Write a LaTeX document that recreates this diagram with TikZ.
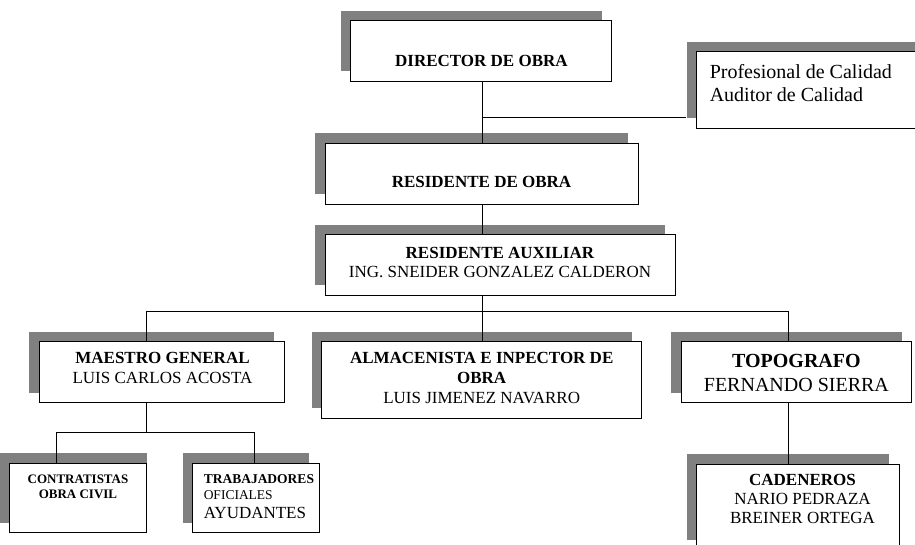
\documentclass[tikz,border=0pt]{standalone}
\usepackage{fontspec}
\setmainfont{Liberation Serif}
\usetikzlibrary{shadows}
\definecolor{shadowgray}{RGB}{128,128,128}
\tikzset{orgbox/.style={draw, line width=1pt, fill=white, inner sep=0pt,
    general shadow={fill=shadowgray, shadow xshift=-10pt, shadow yshift=10pt}}}
\tikzset{boxtext/.style={inner sep=0pt, align=center, font=\fontsize{17}{20}\selectfont}}
\tikzset{link/.style={line width=0.9pt}}

\begin{document}
\begin{tikzpicture}[x=1pt,y=-1pt]
  \useasboundingbox (0,0) rectangle (915,545);

  % boxes
  \node[orgbox, minimum width=261pt, minimum height=60.3pt] (director) at (481.4,50.9) {};
  \node[orgbox, minimum width=233.3pt, minimum height=76.6pt] (calidad) at (813.4,90) {};
  \node[orgbox, minimum width=313pt, minimum height=60.7pt] (residente) at (481.5,173.7) {};
  \node[orgbox, minimum width=350pt, minimum height=60pt] (auxiliar) at (500,265) {};
  \node[orgbox, minimum width=245pt, minimum height=61pt] (maestro) at (161.8,372.2) {};
  \node[orgbox, minimum width=320pt, minimum height=76.6pt] (almacen) at (481.7,380) {};
  \node[orgbox, minimum width=230.7pt, minimum height=61pt] (topografo) at (796.4,372.2) {};
  \node[orgbox, minimum width=137.4pt, minimum height=69.4pt,
    general shadow={fill=shadowgray, shadow xshift=0.7pt, shadow yshift=10.6pt}] (contrat) at (78,498) {};
  \node[orgbox, minimum width=126.3pt, minimum height=69.4pt] (trabaj) at (255.9,498) {};
  \node[orgbox, minimum width=202.6pt, minimum height=86pt] (cadeneros) at (798,507) {};

  % texts
  \node[boxtext, font=\fontsize{17}{20}\selectfont\bfseries] (directortext)
    at ([yshift=-10pt]director.center) {DIRECTOR DE OBRA};
  \node[boxtext, align=left, anchor=west, font=\fontsize{20}{23.3}\selectfont] (calidadtext)
    at ([xshift=13.3pt, yshift=6.6pt]calidad.west) {Profesional de Calidad\\Auditor de Calidad};
  \node[boxtext, font=\fontsize{17}{20}\selectfont\bfseries] (residentetext)
    at ([yshift=-8pt]residente.center) {RESIDENTE DE OBRA};
  \node[boxtext, font=\fontsize{17}{18.4}\selectfont] (auxiliartext)
    at ([yshift=2.5pt]auxiliar.center) {\textbf{RESIDENTE AUXILIAR}\\ING. SNEIDER GONZALEZ CALDERON};
  \node[boxtext] (maestrotext)
    at ([xshift=0.7pt, yshift=3.9pt]maestro.center) {\textbf{MAESTRO GENERAL}\\LUIS CARLOS ACOSTA};
  \node[boxtext] (almacentext)
    at ([yshift=1.7pt]almacen.center) {\textbf{ALMACENISTA E INPECTOR DE}\\\textbf{OBRA}\\LUIS JIMENEZ NAVARRO};
  \node[boxtext, font=\fontsize{20}{24}\selectfont] (topografotext)
    at ([yshift=-0.8pt]topografo.center) {\textbf{TOPOGRAFO}\\FERNANDO SIERRA};
  \node[boxtext, font=\fontsize{13}{15.3}\selectfont\bfseries] (contrattext)
    at ([yshift=11.3pt]contrat.center) {CONTRATISTAS\\OBRA CIVIL};
  \node[boxtext, align=left, anchor=west, font=\fontsize{13.5}{16}\selectfont] (trabajtext)
    at ([xshift=11.3pt, yshift=1.4pt]trabaj.west) {\textbf{TRABAJADORES}\\OFICIALES\\[3.5pt]{\fontsize{17}{19}\selectfont AYUDANTES}};
  \node[boxtext, font=\fontsize{17}{19}\selectfont] (cadenerostext)
    at ([xshift=4.5pt, yshift=8pt]cadeneros.center) {\textbf{CADENEROS}\\NARIO PEDRAZA\\BREINER ORTEGA};

  % connectors
  \coordinate (spine) at (482.7,311.7);
  \coordinate (caljoin) at (482.7,117);
  \coordinate (busleft) at (146.7,311.7);
  \coordinate (busright) at (788.3,311.7);
  \coordinate (subbus) at (146.7,432.3);
  \coordinate (subleft) at (56,432.3);
  \coordinate (subright) at (254.3,432.3);

  \draw[link] (spine |- director.south) -- (spine |- residente.north);
  \draw[link] (caljoin) -- ([xshift=-10pt]caljoin -| calidad.west);
  \draw[link] (spine |- residente.south) -- (spine |- auxiliar.north);
  \draw[link] (spine |- auxiliar.south) -- (spine) -- (spine |- almacen.north);
  \draw[link] (busleft |- maestro.north) -- (busleft) -- (busright) -- (busright |- topografo.north);
  \draw[link] (subbus |- maestro.south) -- (subbus);
  \draw[link] (subleft |- contrat.north) -- (subleft) -- (subright) -- (subright |- trabaj.north);
  \draw[link] (busright |- topografo.south) -- (busright |- cadeneros.north);
\end{tikzpicture}
\end{document}
